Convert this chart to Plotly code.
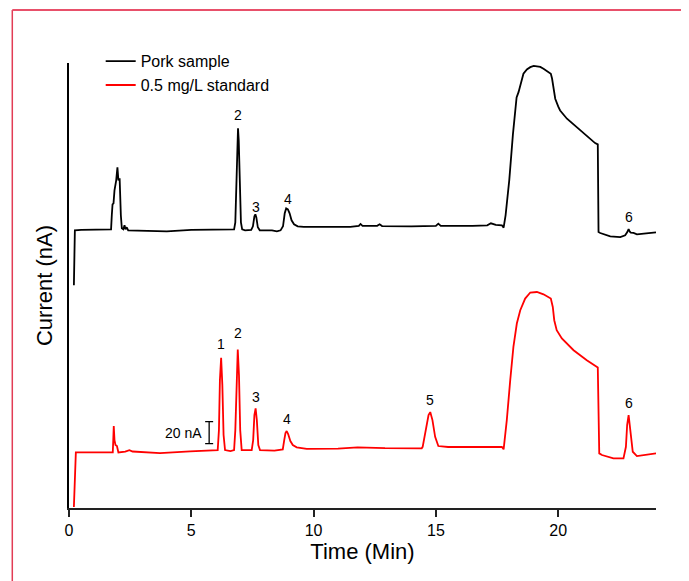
import plotly.graph_objects as go

# chromatograms: time (min) and current (nA)
pork_t = [0.20, 0.24, 0.5, 1.0, 1.5, 1.72, 1.75, 1.78, 1.82, 1.86, 1.93, 1.98, 2.02, 2.07,
          2.12, 2.16, 2.22, 2.27, 2.31, 2.36, 2.42, 3.0, 4.0, 5.0, 6.0, 6.75, 6.80, 6.85,
          6.88, 6.91, 6.94, 6.98, 7.03, 7.08, 7.2, 7.45, 7.52, 7.58, 7.62, 7.66, 7.72, 7.8,
          8.3, 8.5, 8.65, 8.75, 8.82, 8.88, 8.95, 9.02, 9.1, 9.2, 9.35, 9.6, 10.5, 11.5,
          11.85, 11.92, 12.0, 12.6, 12.7, 12.8, 14.0, 15.0, 15.1, 15.2, 16.5, 17.1, 17.25,
          17.45, 17.7, 17.77, 17.85, 18.0, 18.15, 18.3, 18.38, 18.45, 18.58, 18.72, 18.86,
          19.0, 19.13, 19.27, 19.4, 19.55, 19.70, 19.75, 19.78, 19.83, 19.88, 20.0, 20.08,
          20.36, 20.9, 21.31, 21.51, 21.62, 21.65, 21.72, 22.13, 22.54, 22.74, 22.82, 22.88,
          22.93, 22.97, 23.08, 23.22, 23.6, 24.0]
pork_nA = [202.7, 252.7, 253.2, 253.2, 253.2, 253.6, 266.4, 276.4, 277.3, 289.1, 298.2, 310.0,
           298.2, 300.0, 266.4, 254.5, 253.6, 257.3, 253.6, 255.5, 252.7, 252.3, 251.8, 253.2,
           253.6, 253.6, 260.0, 298.2, 334.5, 345.5, 334.5, 293.6, 260.0, 253.6, 252.7, 253.2,
           256.4, 265.5, 267.3, 264.5, 255.5, 252.7, 252.7, 251.8, 252.7, 256.4, 268.2, 272.7,
           271.8, 268.2, 261.8, 258.2, 256.4, 255.9, 255.7, 255.9, 256.8, 258.5, 256.8, 256.8,
           258.2, 256.6, 256.4, 256.8, 258.8, 256.8, 256.8, 257.3, 259.1, 257.7, 257.3, 255.2,
           266.4, 298.2, 340.0, 373.6, 378.5, 384.5, 395.2, 399.1, 401.2, 402.3, 402.1, 401.4,
           399.7, 397.7, 395.2, 390.9, 386.1, 378.2, 372.5, 365.5, 361.8, 354.3, 343.6, 335.5,
           332.1, 330.9, 251.2, 250.3, 247.3, 246.6, 248.2, 250.9, 253.9, 251.4, 250.6, 250.3,
           249.1, 250.0, 250.9]

std_t = [0.20, 0.28, 1.0, 1.79, 1.81, 1.83, 1.86, 1.9, 1.96, 2.02, 2.3, 2.47, 2.6, 3.72, 4.95,
         6.04, 6.08, 6.13, 6.17, 6.22, 6.27, 6.32, 6.38, 6.6, 6.75, 6.80, 6.85, 6.90, 6.95,
         7.0, 7.06, 7.3, 7.47, 7.53, 7.58, 7.63, 7.68, 7.74, 7.81, 8.4, 8.74, 8.80, 8.85,
         8.9, 8.96, 9.05, 9.15, 9.31, 9.72, 11.0, 11.8, 12.92, 14.42, 14.46, 14.6, 14.7,
         14.77, 14.86, 14.97, 15.1, 15.5, 17.0, 17.7, 17.77, 17.9, 18.04, 18.17, 18.31,
         18.45, 18.65, 18.86, 19.13, 19.4, 19.70, 19.78, 19.84, 19.94, 20.15, 20.63, 21.17,
         21.51, 21.62, 21.68, 21.79, 22.26, 22.67, 22.77, 22.82, 22.88, 22.93, 22.97, 23.05,
         23.22, 24.0]
std_nA = [0.9, 50.6, 50.6, 50.6, 61.8, 74.5, 61.8, 57.3, 56.4, 50.6, 51.4, 52.7, 51.4, 50.0,
          51.5, 52.7, 52.7, 70.9, 116.4, 136.6, 111.8, 66.4, 52.7, 51.8, 52.7, 70.9, 120.9,
          144.3, 120.9, 70.9, 52.7, 52.3, 52.7, 61.8, 84.5, 90.6, 80.0, 57.3, 52.7, 52.3,
          53.4, 61.8, 68.2, 70.0, 67.3, 60.9, 57.3, 55.2, 53.9, 54.1, 55.2, 54.5, 54.3, 55.7,
          70.9, 84.5, 87.3, 80.0, 64.8, 56.4, 55.5, 55.5, 55.5, 53.4, 80.0, 116.4, 146.6,
          167.9, 180.0, 190.6, 196.1, 196.6, 194.5, 190.6, 183.0, 170.9, 161.8, 154.3, 143.6,
          134.5, 129.1, 127.9, 49.7, 48.2, 45.2, 45.2, 55.7, 75.5, 84.5, 75.5, 64.8, 51.2,
          47.3, 49.7]

# peak numbers
pork_labels = ["2", "3", "4", "6"]
pork_label_t = [6.91, 7.65, 8.96, 22.9]
pork_label_nA = [358.0, 274.0, 281.0, 265.0]
std_labels = ["1", "2", "3", "4", "5", "6"]
std_label_t = [6.22, 6.91, 7.65, 8.92, 14.77, 22.9]
std_label_nA = [149.0, 159.0, 101.0, 81.0, 98.0, 96.0]

# 20 nA scale bar
bar_t = 5.73
bar_mid = 68.6
bar_len = 20

fig = go.Figure()
fig.add_trace(go.Scatter(x=pork_t, y=pork_nA, mode="lines", name="Pork sample",
                         line=dict(color="black", width=1.8)))
fig.add_trace(go.Scatter(x=std_t, y=std_nA, mode="lines", name="0.5 mg/L standard",
                         line=dict(color="#ff0000", width=1.8)))
fig.add_trace(go.Scatter(x=[bar_t], y=[bar_mid], mode="markers", showlegend=False,
                         marker=dict(size=1, color="rgba(0,0,0,0)"),
                         error_y=dict(type="constant", value=bar_len / 2, color="black",
                                      thickness=1.3, width=4)))

annots = []
for txt, t, v in zip(pork_labels, pork_label_t, pork_label_nA):
    annots.append(dict(x=t, y=v, text=txt, showarrow=False, font=dict(size=14)))
for txt, t, v in zip(std_labels, std_label_t, std_label_nA):
    annots.append(dict(x=t, y=v, text=txt, showarrow=False, font=dict(size=14)))
annots.append(dict(x=bar_t - 0.22, y=bar_mid, text="%d nA" % bar_len, showarrow=False,
                   xanchor="right", font=dict(size=14)))

# page body has an 8px margin, so the figure is made 8px smaller each way
fig.update_layout(
    width=681, height=573,
    margin=dict(l=61, r=33, t=55, b=73),
    paper_bgcolor="white", plot_bgcolor="white",
    font=dict(family="Arial, Liberation Sans, sans-serif", color="black"),
    showlegend=True,
    legend=dict(x=0.054, y=1.042, xanchor="left", yanchor="top",
                font=dict(size=16), bgcolor="rgba(0,0,0,0)", tracegroupgap=0),
    annotations=annots,
    shapes=[
        # red frame round the figure
        dict(type="line", xref="paper", yref="paper", x0=-0.0966, x1=-0.0966,
             y0=1.119, y1=-0.2, line=dict(color="#e23c55", width=1.5)),
        dict(type="line", xref="paper", yref="paper", x0=-0.0966, x1=1.1,
             y0=1.119, y1=1.119, line=dict(color="#e8506a", width=2)),
    ],
)
fig.update_xaxes(range=[0, 24], tickvals=[0, 5, 10, 15, 20], ticks="outside", ticklen=7,
                 tickwidth=1.5, tickcolor="#222", showline=True, linecolor="#222", linewidth=2,
                 showgrid=False, zeroline=False, tickfont=dict(size=16),
                 title=dict(text="Time (Min)", font=dict(size=22), standoff=3))
fig.update_yaxes(range=[0, 405], showticklabels=False, ticks="", showline=True,
                 linecolor="black", linewidth=1.5, showgrid=False, zeroline=False,
                 title=dict(text="Current (nA)", font=dict(size=22), standoff=9))

fig.write_html("out.html")
